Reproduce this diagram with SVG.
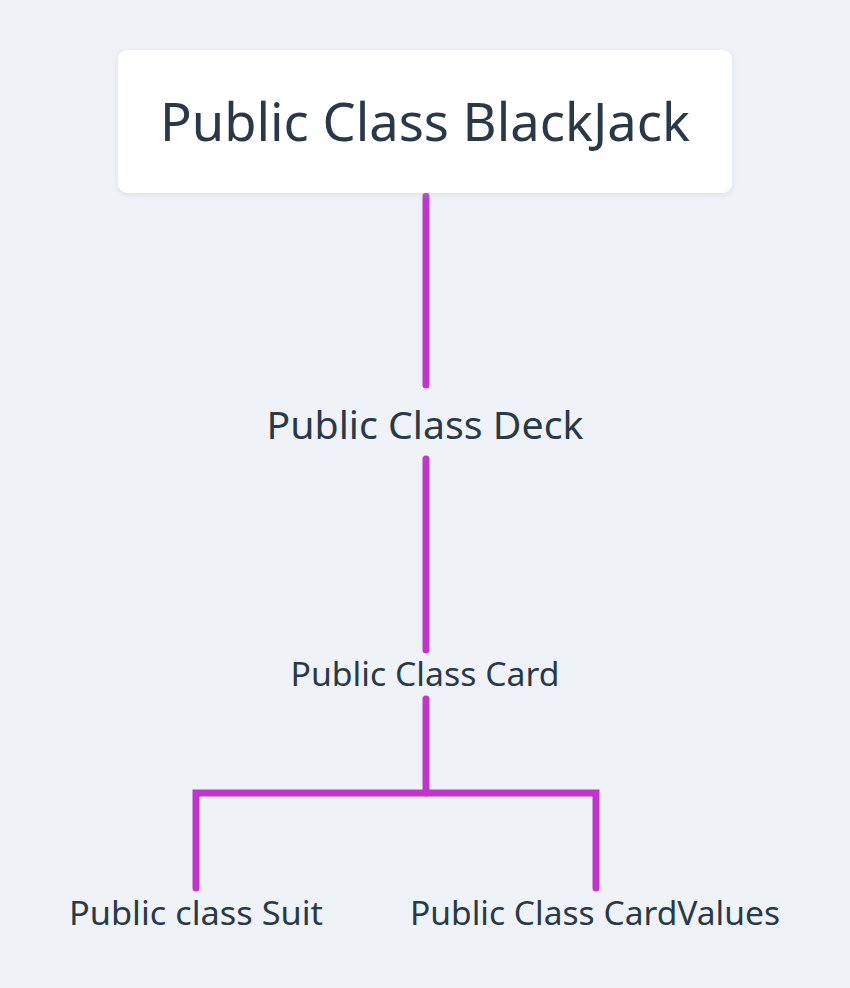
<svg xmlns="http://www.w3.org/2000/svg" width="850" height="988" viewBox="0 0 850 988">
  <defs>
    <filter id="sh" x="-10%" y="-20%" width="120%" height="150%">
      <feDropShadow dx="0" dy="2" stdDeviation="3" flood-color="#b0bcc8" flood-opacity="0.35"/>
    </filter>
  </defs>
  <style>
    .t { font-family: "Noto Sans", "DejaVu Sans", sans-serif; fill: #2a3947; text-anchor: middle; }
    .c { stroke: #bf36cc; stroke-width: 7; stroke-linecap: round; stroke-linejoin: miter; fill: none; }
  </style>
  <rect width="850" height="988" fill="#eff3f7"/>
  <g id="connectors">
    <path class="c" d="M426 196 V385"/>
    <path class="c" d="M426 459 V650"/>
    <path class="c" d="M426 699 V793"/>
    <path class="c" d="M196 888 V793 H596 V888"/>
  </g>
  <g id="blackjack">
    <rect x="118" y="50" width="614" height="143" rx="9" fill="#ffffff" filter="url(#sh)"/>
    <text class="t" x="425" y="141" font-size="52" textLength="530" lengthAdjust="spacingAndGlyphs">Public Class BlackJack</text>
  </g>
  <g id="deck">
    <text class="t" x="425" y="439" font-size="38" textLength="317" lengthAdjust="spacingAndGlyphs">Public Class Deck</text>
  </g>
  <g id="card">
    <text class="t" x="425" y="686" font-size="33" textLength="269" lengthAdjust="spacingAndGlyphs">Public Class Card</text>
  </g>
  <g id="suit">
    <text class="t" x="196" y="925" font-size="32" textLength="254" lengthAdjust="spacingAndGlyphs">Public class Suit</text>
  </g>
  <g id="cardvalues">
    <text class="t" x="595" y="925" font-size="32" textLength="370" lengthAdjust="spacingAndGlyphs">Public Class CardValues</text>
  </g>
</svg>
